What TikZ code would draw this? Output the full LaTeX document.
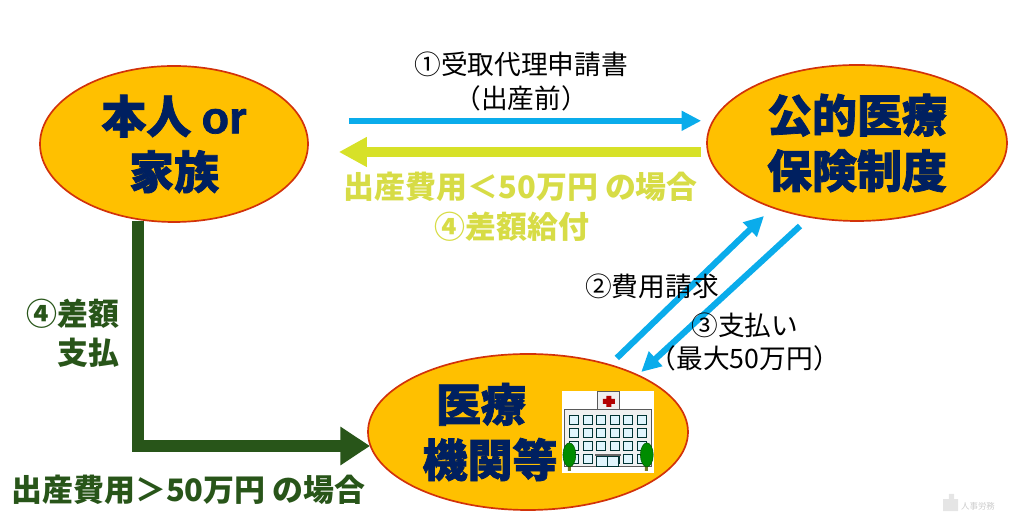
\documentclass[tikz,border=0pt]{standalone}
\usepackage{fontspec}
\setmainfont{Noto Sans CJK JP}
\newfontfamily\heavyfont{Noto Sans CJK JP}[BoldFeatures={FakeBold=1.6}]
\newfontfamily\latinfont{Liberation Sans}[BoldFeatures={FakeBold=1.6}]
\usetikzlibrary{positioning,shapes.geometric,arrows.meta}
\definecolor{oval}{RGB}{255,192,0}
\definecolor{ovalline}{RGB}{210,50,10}
\definecolor{navytext}{RGB}{0,32,96}
\definecolor{bluearrow}{RGB}{10,172,235}
\definecolor{yellowarrow}{RGB}{215,225,40}
\definecolor{yellowtext}{RGB}{215,220,70}
\definecolor{greenarrow}{RGB}{40,85,25}
\newcommand{\bigfont}{\fontsize{32}{39.5}\selectfont\heavyfont\bfseries}
\newcommand{\labelfont}{\fontsize{19}{24}\selectfont}
\newcommand{\midfont}{\fontsize{22}{28}\selectfont\bfseries}

\begin{document}
\begin{tikzpicture}[every node/.style={inner sep=0pt},
    party/.style={ellipse,draw=ovalline,line width=1.2pt,fill=oval,minimum height=3.9cm,align=center,text=navytext,font=\bigfont},
    mytext/.style={align=center,font=\labelfont},
    yellowtxt/.style={align=center,font=\midfont,text=yellowtext},
    greentxt/.style={font=\midfont,text=greenarrow},
    bluelink/.style={bluearrow,line width=4.4pt,-{Triangle[length=14pt,width=13.5pt]}},
    yellowlink/.style={yellowarrow,line width=7pt,-{Triangle[length=20pt,width=20pt]}},
    greenlink/.style={greenarrow,line width=9.2pt,-{Triangle[length=21pt,width=26pt]}},
    hline/.style={draw=black!65,line width=.8pt},
    win/.style={draw=black!60!teal,line width=.8pt,fill=cyan!12},
    tree/.style={ellipse,draw=green!35!black,fill=green!55!black,line width=.4pt,minimum width=.32cm,minimum height=.6cm}]
  \useasboundingbox (0,0) rectangle (25.6,13.2);
  \node[party,minimum width=6.7cm] (person) at (4.35,9.6) {本人 {\latinfont\bfseries or}\\家族};
  \node[party,minimum width=7.5cm] (system) at (21.425,9.625) {公的医療\\保険制度};
  \node[party,minimum width=8cm] (clinic) at (13.2,2.4) {};
  \node[font=\bigfont,text=navytext,align=center] (clinictext) at (12.25,2.4) {医療\hspace*{.45cm}\\機関等};
  % free arrow ends
  \coordinate (p1) at (8.72,10.18);
  \coordinate (s1) at (17.53,10.18);
  \coordinate (s2) at (17.53,9.4);
  \coordinate (p2) at (8.47,9.4);
  \coordinate (p3) at (3.45,7.67);
  \coordinate (c3) at (9.25,2.05);
  \coordinate (c4) at (15.42,4.25);
  \coordinate (s4) at (19.1,7.8);
  \coordinate (s5) at (20.0,7.55);
  \coordinate (c5) at (16.03,3.9);
  \draw[bluelink] (p1) -- (s1);
  \draw[yellowlink] (s2) -- (p2);
  \draw[greenlink] (p3) |- (c3);
  \draw[bluelink] (c4) -- (s4);
  \draw[bluelink] (s5) -- (c5);
  \node[mytext] (lab1) at (13.03,11.17) {①受取代理申請書\\（出産前）};
  \node[yellowtxt] (lab2) at (13.02,8.03) {出産費用＜50万円 の場合\\④差額給付\hspace*{.45cm}};
  \node[greentxt,align=right,anchor=east] (lab3) at (3.0,4.87) {④差額\\支払};
  \node[greentxt,anchor=west] (lab4) at (0.28,0.95) {出産費用＞50万円 の場合};
  \node[mytext] (lab5) at (16.3,6.05) {②費用請求};
  \node[mytext] (lab6) at (18.62,4.65) {③支払い\\（最大50万円）};
  % hospital, in pixels of the picture
  \begin{scope}[shift={(0,13.2)},x=.025cm,y=-.025cm]
    \fill[white] (562,391) rectangle (654,473);
    \draw[hline,fill=black!6] (598,392) rectangle (620,410);
    \draw[hline,fill=black!6] (565,410) rectangle (652,467);
    \foreach \row in {0,1,2,3}
      \foreach \col in {0,...,5}
        \draw[win] (570+\col*13.5,416+\row*13) rectangle ++(9,9);
    \fill[red!70!black] (606.5,396) rectangle (611.5,407) (603,399) rectangle (615,404);
    \draw[win] (597,457) rectangle (619,467) (608,457) -- (608,467);
    \draw[black!60,line width=1.4pt] (595,455) -- (621,455);
    \fill[black!55!green!40!brown] (568,462) rectangle (571,471) (645,462) rectangle (648,471);
    \node[tree] (tree1) at (569.5,455) {};
    \node[tree] (tree2) at (647,455) {};
  \end{scope}
  % watermark
  \fill[black!10] (23.58,0.42) rectangle (23.95,0.72) (23.72,0.72) rectangle (23.85,0.85);
  \node[font=\fontsize{6}{7}\selectfont,text=black!20] (mark) at (24.45,0.55) {人事労務};
\end{tikzpicture}
\end{document}
